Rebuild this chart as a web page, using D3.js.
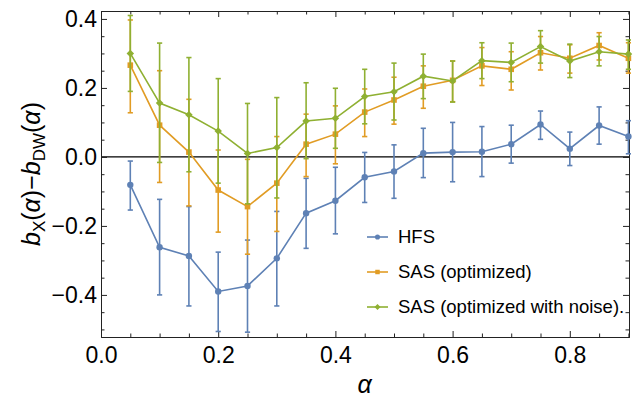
<!DOCTYPE html>
<html>
<head>
<meta charset="utf-8">
<script src="https://cdn.jsdelivr.net/npm/d3@7"></script>
<style>
  body { margin: 0; background: #fff; }
  svg { font-family: "Liberation Sans", Arial, sans-serif; }
</style>
</head>
<body>
<script>
const W = 637, H = 403;
const margin = { top: 11, right: 8, bottom: 66, left: 101 };

// alpha values shared by all series
const alphas = [0.05, 0.1, 0.15, 0.2, 0.25, 0.3, 0.35, 0.4, 0.45, 0.5, 0.55, 0.6, 0.65, 0.7, 0.75, 0.8, 0.85, 0.9];

// HFS
const hfsVal = [-0.081, -0.262, -0.287, -0.390, -0.374, -0.294, -0.163, -0.127, -0.059, -0.042, 0.011, 0.014, 0.015, 0.037, 0.094, 0.024, 0.091, 0.059];
const hfsLo  = [-0.154, -0.400, -0.432, -0.506, -0.508, -0.432, -0.265, -0.223, -0.132, -0.120, -0.060, -0.072, -0.057, -0.018, 0.051, -0.025, 0.037, 0.009];
const hfsHi  = [-0.012, -0.123, -0.144, -0.276, -0.241, -0.158, -0.062, -0.030, 0.013, 0.035, 0.083, 0.100, 0.088, 0.092, 0.133, 0.072, 0.145, 0.105];

// SAS (optimized)
const sasVal = [0.266, 0.092, 0.014, -0.096, -0.144, -0.076, 0.037, 0.066, 0.130, 0.165, 0.205, 0.222, 0.264, 0.254, 0.302, 0.286, 0.323, 0.286];
const sasLo  = [0.128, -0.074, -0.142, -0.218, -0.282, -0.216, -0.057, -0.020, 0.059, 0.095, 0.141, 0.160, 0.207, 0.194, 0.252, 0.243, 0.281, 0.243];
const sasHi  = [0.397, 0.250, 0.167, 0.020, -0.007, 0.059, 0.124, 0.148, 0.197, 0.231, 0.264, 0.278, 0.317, 0.305, 0.349, 0.325, 0.360, 0.331];

// SAS (optimized with noise)
const noiseVal = [0.300, 0.156, 0.122, 0.075, 0.010, 0.027, 0.104, 0.112, 0.175, 0.189, 0.234, 0.220, 0.279, 0.274, 0.320, 0.278, 0.305, 0.298];
const noiseLo  = [0.190, -0.016, -0.043, -0.076, -0.136, -0.119, -0.005, 0.025, 0.096, 0.107, 0.169, 0.159, 0.227, 0.218, 0.272, 0.230, 0.264, 0.254];
const noiseHi  = [0.410, 0.330, 0.288, 0.227, 0.155, 0.172, 0.215, 0.199, 0.254, 0.272, 0.298, 0.278, 0.331, 0.330, 0.366, 0.327, 0.349, 0.339];

const seriesNames = ["HFS", "SAS (optimized)", "SAS (optimized with noise)."];
const seriesColors = ["#5e81b5", "#e19c24", "#8fb032"];

const xMajor = [0, 0.2, 0.4, 0.6, 0.8];
const yMajor = [-0.4, -0.2, 0, 0.2, 0.4];

const series = [
    { name: seriesNames[0], color: seriesColors[0], val: hfsVal, lo: hfsLo, hi: hfsHi, shape: "circle" },
    { name: seriesNames[1], color: seriesColors[1], val: sasVal, lo: sasLo, hi: sasHi, shape: "square" },
    { name: seriesNames[2], color: seriesColors[2], val: noiseVal, lo: noiseLo, hi: noiseHi, shape: "diamond" }
];

const svg = d3.select("body").append("svg").attr("width", W).attr("height", H);

const x = d3.scaleLinear().domain([0, 0.901]).range([margin.left, W - margin.right]);
const y = d3.scaleLinear().domain([-0.522, 0.423]).range([H - margin.bottom, margin.top]);

const xMinor = d3.range(0, 0.901, 0.05).filter(v => !xMajor.some(m => Math.abs(m - v) < 1e-6));
const yMinor = d3.range(-0.5, 0.423, 0.05).filter(v => !yMajor.some(m => Math.abs(m - v) < 1e-6));

const fmt = d3.format(".1f");
const frameColor = "#222";

// zero line
svg.append("line")
    .attr("x1", x.range()[0]).attr("x2", x.range()[1])
    .attr("y1", y(0)).attr("y2", y(0))
    .attr("stroke", "#000").attr("stroke-width", 1.1);

// frame axes, ticks pointing inwards
function frameAxis(axis, transform, major, minor, pad) {
    const g = svg.append("g").attr("transform", transform);
    g.call(axis.tickValues(major).tickSize(-6).tickPadding(pad || 0)
        .tickFormat(pad ? fmt : ""));
    const gm = svg.append("g").attr("transform", transform);
    gm.call(axis.tickValues(minor).tickSize(-3.5).tickFormat(""));
    gm.select(".domain").remove();
    [g, gm].forEach(s => {
        s.selectAll("line").attr("stroke", frameColor);
        s.select(".domain").attr("stroke", frameColor);
    });
    g.selectAll("text").attr("font-size", 23).attr("fill", "#000");
    return g;
}

frameAxis(d3.axisBottom(x), `translate(0,${y.range()[0]})`, xMajor, xMinor, 10);
frameAxis(d3.axisTop(x), `translate(0,${y.range()[1]})`, xMajor, xMinor, 0);
frameAxis(d3.axisLeft(y), `translate(${x.range()[0]},0)`, yMajor, yMinor, 4);
frameAxis(d3.axisRight(y), `translate(${x.range()[1]},0)`, yMajor, yMinor, 0);

function marker(g, shape, cx, cy, color, s) {
    if (shape === "circle") {
        g.append("circle").attr("cx", cx).attr("cy", cy).attr("r", 3.2 * s).attr("fill", color);
    } else if (shape === "square") {
        g.append("rect").attr("x", cx - 2.8 * s).attr("y", cy - 2.8 * s)
            .attr("width", 5.6 * s).attr("height", 5.6 * s).attr("fill", color);
    } else {
        g.append("path").attr("d", d3.symbol(d3.symbolDiamond2, 36 * s * s)())
            .attr("transform", `translate(${cx},${cy})`).attr("fill", color);
    }
}

const plot = svg.append("g");
const line = d3.line().x(d => x(d[0])).y(d => y(d[1]));

series.forEach(s => {
    const g = plot.append("g");
    // error bars
    alphas.forEach((a, i) => {
        const cx = x(a);
        g.append("line").attr("x1", cx).attr("x2", cx)
            .attr("y1", y(s.lo[i])).attr("y2", y(s.hi[i]))
            .attr("stroke", s.color).attr("stroke-width", 1.6);
        [s.lo[i], s.hi[i]].forEach(v => {
            g.append("line").attr("x1", cx - 2.6).attr("x2", cx + 2.6)
                .attr("y1", y(v)).attr("y2", y(v))
                .attr("stroke", s.color).attr("stroke-width", 1.6);
        });
    });
    g.append("path").datum(alphas.map((a, i) => [a, s.val[i]]))
        .attr("d", line).attr("fill", "none")
        .attr("stroke", s.color).attr("stroke-width", 1.6);
    alphas.forEach((a, i) => marker(g, s.shape, x(a), y(s.val[i]), s.color, 1));
});

// legend
const legend = svg.append("g").attr("transform", "translate(367,237)");
series.forEach((s, i) => {
    const row = legend.append("g").attr("transform", `translate(0,${i * 35})`);
    row.append("line").attr("x1", 0).attr("x2", 21).attr("y1", 0).attr("y2", 0)
        .attr("stroke", s.color).attr("stroke-width", 1.6);
    marker(row, s.shape, 10.5, 0, s.color, 0.8);
    row.append("text").attr("x", 31).attr("y", 0).attr("dy", "0.35em")
        .attr("font-size", 18.5).attr("fill", "#000").text(s.name);
});

// axis titles
svg.append("text")
    .attr("x", x(0.45)).attr("y", 393)
    .attr("text-anchor", "middle").attr("font-size", 25).attr("font-style", "italic")
    .text("α");

const yt = svg.append("text")
    .attr("transform", `translate(40,${(y.range()[0] + y.range()[1]) / 2}) rotate(-90)`)
    .attr("text-anchor", "middle").attr("font-size", 25);
yt.append("tspan").attr("font-style", "italic").text("b");
yt.append("tspan").attr("font-size", 17).attr("dy", 5).text("X");
yt.append("tspan").attr("dy", -5).text("(");
yt.append("tspan").attr("font-style", "italic").text("α");
yt.append("tspan").text(")−");
yt.append("tspan").attr("font-style", "italic").text("b");
yt.append("tspan").attr("font-size", 17).attr("dy", 5).text("DW");
yt.append("tspan").attr("dy", -5).text("(");
yt.append("tspan").attr("font-style", "italic").text("α");
yt.append("tspan").text(")");
</script>
</body>
</html>
